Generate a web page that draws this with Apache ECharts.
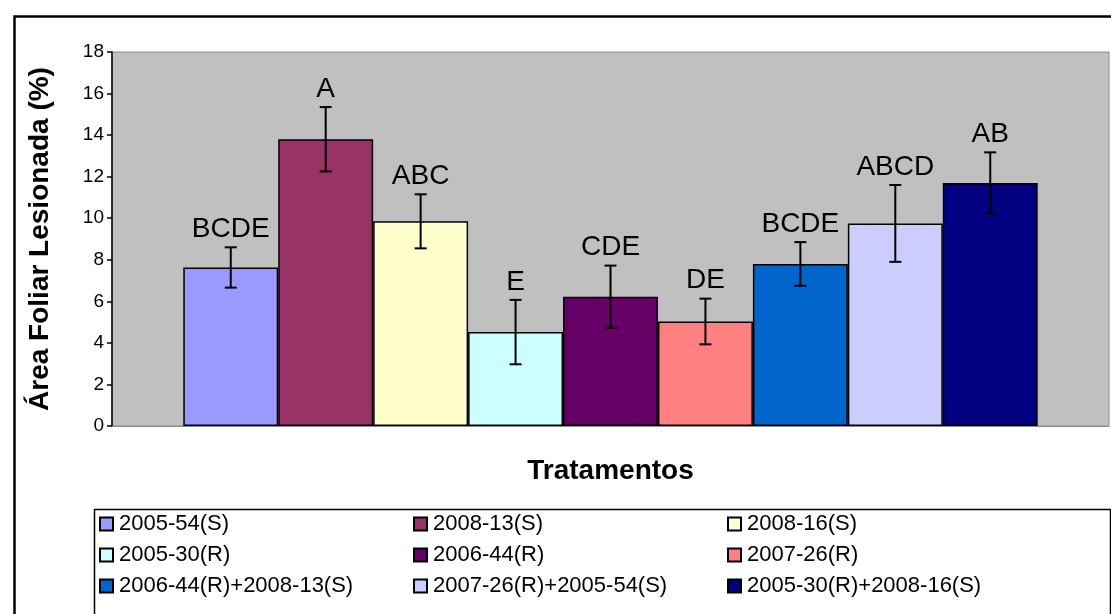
<!DOCTYPE html>
<html>
<head>
<meta charset="utf-8">
<title>Área Foliar Lesionada</title>
<script src="https://cdn.jsdelivr.net/npm/echarts@6/dist/echarts.min.js"></script>
<style>
    html, body { margin: 0; padding: 0; background: #fff; }
    #echarts { width: 1111px; height: 614px; }
</style>
</head>
<body>
<div id="echarts"></div>
<script>
// tratamentos
var nomes = ['2005-54(S)', '2008-13(S)', '2008-16(S)', '2005-30(R)', '2006-44(R)', '2007-26(R)',
    '2006-44(R)+2008-13(S)', '2007-26(R)+2005-54(S)', '2005-30(R)+2008-16(S)'];
// media e erro
var medias = [7.63, 13.8, 9.85, 4.52, 6.22, 5.03, 7.8, 9.75, 11.7];
var erros = [0.97, 1.55, 1.3, 1.55, 1.5, 1.1, 1.05, 1.85, 1.47];
// letras do teste
var letras = ['BCDE', 'A', 'ABC', 'E', 'CDE', 'DE', 'BCDE', 'ABCD', 'AB'];
var cores = ['#9999FF', '#993366', '#FFFFCC', '#CCFFFF', '#660066', '#FF8080', '#0066CC', '#CCCCFF', '#000080'];
var yTicks = [0, 2, 4, 6, 8, 10, 12, 14, 16, 18];

var gapCat = 0.143;
var fonte = "'Liberation Sans', Arial, sans-serif";

var myChart = echarts.init(document.getElementById('echarts'));

var series = [];
for (var i = 0; i < nomes.length; i++) {
    series.push({
        name: nomes[i],
        type: 'bar',
        barGap: '0%',
        barCategoryGap: (gapCat * 100) + '%',
        itemStyle: { color: cores[i], borderColor: '#000', borderWidth: 1.5 },
        emphasis: { disabled: true },
        data: [medias[i]]
    });
}

// barras de erro + letras
var dadosErro = [];
for (var j = 0; j < medias.length; j++) {
    dadosErro.push([0, medias[j], erros[j], j]);
}
series.push({
    type: 'custom',
    name: 'erro',
    z: 10,
    silent: true,
    encode: { x: 0, y: 1 },
    data: dadosErro,
    renderItem: function (params, api) {
        var m = api.value(1), e = api.value(2), k = api.value(3);
        var c = api.coord([0, m]);
        var band = api.size([1, 0])[0];
        var grupo = band * (1 - gapCat);
        var w = grupo / nomes.length;
        var cx = c[0] - grupo / 2 + (k + 0.5) * w;
        var yHi = api.coord([0, m + e])[1];
        var yLo = api.coord([0, m - e])[1];
        var st = { stroke: '#000', lineWidth: 2 };
        return {
            type: 'group',
            children: [
                { type: 'line', shape: { x1: cx, y1: yHi, x2: cx, y2: yLo }, style: st },
                { type: 'line', shape: { x1: cx - 6, y1: yHi, x2: cx + 6, y2: yHi }, style: st },
                { type: 'line', shape: { x1: cx - 6, y1: yLo, x2: cx + 6, y2: yLo }, style: st },
                {
                    type: 'text',
                    style: {
                        text: letras[k], x: cx, y: yHi - 4,
                        align: 'center', verticalAlign: 'bottom',
                        fontSize: 28, fontFamily: fonte, fill: '#000'
                    }
                }
            ]
        };
    }
});

function legenda(idx, left) {
    return {
        orient: 'vertical',
        left: left,
        top: 513,
        itemWidth: 13,
        itemHeight: 13,
        itemGap: 9,
        icon: 'rect',
        selectedMode: false,
        padding: 0,
        textStyle: { fontSize: 22, fontFamily: fonte, color: '#000', padding: [0, 0, 0, 1] },
        data: idx.map(function (n) { return nomes[n]; })
    };
}

option = {
    backgroundColor: '#fff',
    animation: false,
    textStyle: { fontFamily: fonte },
    grid: {
        left: 112, right: 2, top: 52, bottom: 188,
        show: true, backgroundColor: '#C0C0C0', borderColor: '#8c8c8c', borderWidth: 1
    },
    legend: [legenda([0, 3, 6], 99), legenda([1, 4, 7], 413), legenda([2, 5, 8], 727)],
    xAxis: {
        type: 'category',
        data: [''],
        name: 'Tratamentos',
        nameLocation: 'middle',
        nameGap: 31,
        nameTextStyle: { fontSize: 28, fontWeight: 'bold', color: '#000', fontFamily: fonte },
        axisLine: { show: true, lineStyle: { color: '#8c8c8c', width: 1 } },
        axisTick: { show: false },
        axisLabel: { show: false },
        splitLine: { show: false }
    },
    yAxis: {
        type: 'value',
        min: yTicks[0],
        max: yTicks[yTicks.length - 1],
        interval: 2,
        name: 'Área Foliar Lesionada (%)',
        nameLocation: 'middle',
        nameRotate: 90,
        nameGap: 58,
        nameTextStyle: { fontSize: 28, fontWeight: 'bold', color: '#000', fontFamily: fonte },
        axisLine: { show: true, lineStyle: { color: '#000', width: 1.5 } },
        axisTick: { show: true, inside: false, length: 5, lineStyle: { color: '#000', width: 1.5 } },
        axisLabel: { fontSize: 19, color: '#000', margin: 8, fontFamily: fonte },
        splitLine: { show: false }
    },
    graphic: [
        // moldura externa
        { type: 'rect', left: 12, top: 14, silent: true,
          shape: { width: 1200, height: 700 }, style: { fill: 'none', stroke: '#000', lineWidth: 2.5 } },
        // caixa da legenda
        { type: 'rect', left: 92, top: 507, silent: true,
          shape: { width: 1016, height: 130 }, style: { fill: 'none', stroke: '#000', lineWidth: 1.5 } }
    ],
    series: series
};

myChart.setOption(option);
</script>
</body>
</html>
